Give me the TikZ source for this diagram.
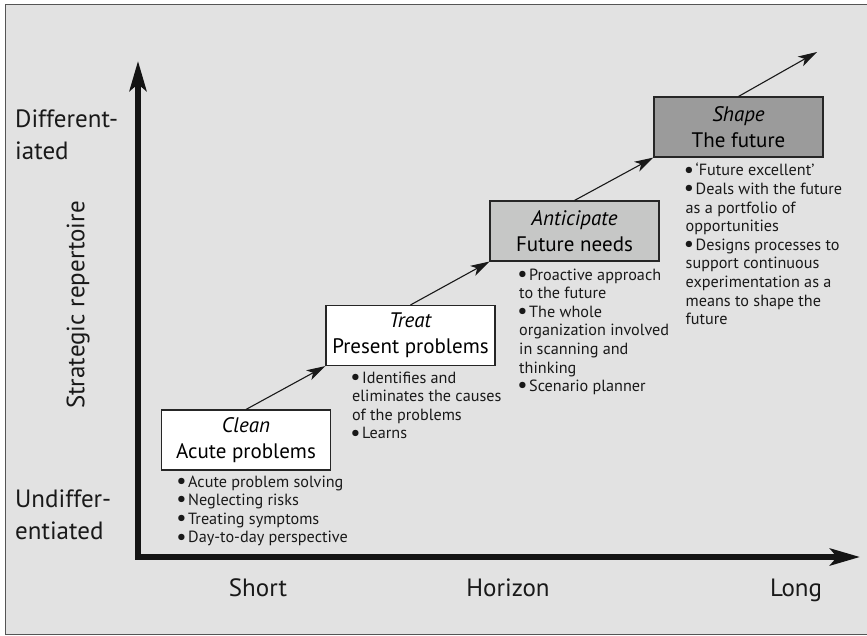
\documentclass[tikz,border=0pt]{standalone}
\usepackage{fontspec}
\setmainfont{PT Sans}
\usetikzlibrary{arrows.meta}
\definecolor{panel}{HTML}{E2E2E2}
\definecolor{frameline}{HTML}{555555}
\definecolor{boxline}{HTML}{262626}
\definecolor{lightfill}{HTML}{C6C7C6}
\definecolor{darkfill}{HTML}{9B9B9B}
% one bullet point with hanging indent
\newcommand\bul[1]{\par\hangindent=10pt\hangafter=1\noindent
  \makebox[10pt][l]{\hspace*{-1.8pt}\raisebox{-1.2pt}{\scalebox{1.4}{\textbullet}}}#1}
\newcommand\notelist[1]{\vtop{\hsize=230pt\parindent=0pt\raggedright #1\par}}
\tikzset{
  stage/.style={draw=boxline, line width=1.1pt, minimum width=169pt, minimum height=60pt,
    inner sep=0pt, align=center, font=\fontsize{21}{26}\selectfont},
  link/.style={line width=1.1pt, draw=black!90, -{Stealth[length=19pt,width=11pt,inset=5pt]}},
  axis/.style={line width=5.5pt, line join=miter, draw=black!92,
    {Stealth[length=30pt,width=17pt,inset=7pt]}-{Stealth[length=30pt,width=17pt,inset=7pt]}},
  biglabel/.style={font=\fontsize{25}{32}\selectfont, inner sep=0pt, text=black!90},
  notes/.style={inner sep=0pt, anchor=base west, font=\fontsize{16.2}{18.6}\selectfont, text=black!90}
}
\begin{document}
\begin{tikzpicture}[x=1pt, y=-1pt]
\useasboundingbox (0,0) rectangle (867,636);
% panel
\draw[fill=panel, draw=frameline, line width=1.5pt] (5.5,4.5) rectangle (880,634.5);

% axes
\coordinate (origin) at (138,557);
\coordinate (ytip) at (138,61);
\coordinate (xtip) at (860,557);
\draw[axis] (ytip) -- (origin) -- (xtip);

% axis labels
\node[biglabel, anchor=base west] (diffa) at (15,128) {Different-};
\node[biglabel, anchor=base west] (diffb) at (15,160) {iated};
\node[biglabel, anchor=base west] (undiffa) at (15,507) {Undiffer-};
\node[biglabel, anchor=base west] (undiffb) at (15,539) {entiated};
\node[biglabel, rotate=90] (repertoire) at (78,305) {Strategic repertoire};
\node[biglabel, anchor=base] (short) at (258,596) {Short};
\node[biglabel, anchor=base] (horizon) at (508,596) {Horizon};
\node[biglabel, anchor=base] (long) at (796,596) {Long};

% stages
\node[stage, fill=white] (clean) at (246,440) {\textit{Clean}\\Acute problems};
\node[stage, fill=white] (treat) at (410.5,335.5) {\textit{Treat}\\Present problems};
\node[stage, fill=lightfill] (anticipate) at (574.5,231) {\textit{Anticipate}\\Future needs};
\node[stage, fill=darkfill] (shape) at (738.5,127) {\textit{Shape}\\The future};
\coordinate (beyond) at (817,52);

\draw[link] (clean.north) -- (treat.south west);
\draw[link] (treat.north) -- (anticipate.south west);
\draw[link] (anticipate.north) -- (shape.south west);
\draw[link] (shape.north) -- (beyond);

% descriptions
\node[notes] (cleannotes) at (178,487) {\notelist{%
  \bul{Acute problem solving}\bul{Neglecting risks}\bul{Treating symptoms}\bul{Day-to-day perspective}}};
\node[notes] (treatnotes) at (352,383) {\notelist{%
  \bul{Identifies and\\eliminates the causes\\of the problems}\bul{Learns}}};
\node[notes] (anticipatenotes) at (519,280) {\notelist{%
  \bul{Proactive approach\\to the future}\bul{The whole\\organization involved\\in scanning and\\thinking}\bul{Scenario planner}}};
\node[notes] (shapenotes) at (685.5,176) {\notelist{%
  \bul{‘Future excellent’}\bul{Deals with the future\\as a portfolio of\\opportunities}\bul{Designs processes to\\support continuous\\experimentation as a\\means to shape the\\future}}};
\end{tikzpicture}
\end{document}
